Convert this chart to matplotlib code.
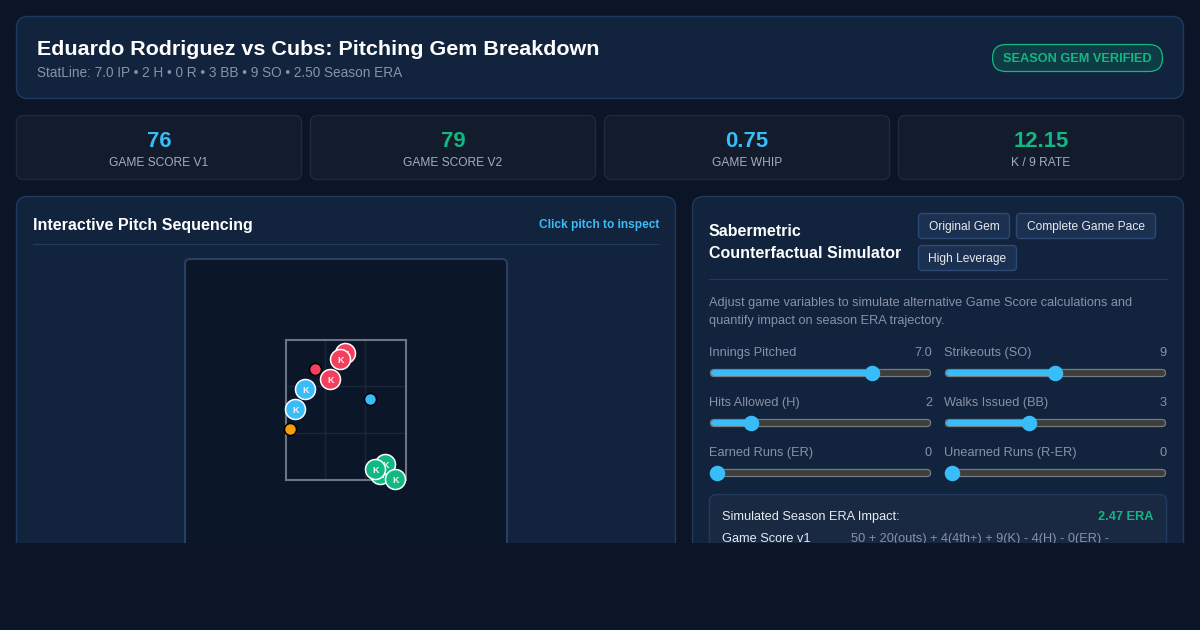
import matplotlib
matplotlib.use("Agg")
import matplotlib.pyplot as plt
from matplotlib.patches import FancyBboxPatch, Rectangle

plt.rcParams['font.family'] = ['Liberation Sans', 'DejaVu Sans']

W, H = 1200, 630
BG = '#0b1527'
CARD = '#131c2d'
CARD_EDGE = '#1f2a3c'
PANEL = '#12233d'
PANEL_EDGE = '#1e3a5f'
BLUE = '#38bdf8'
GREEN = '#10b981'
RED = '#f43f5e'
ORANGE = '#f59e0b'
MUTED = '#8892a6'
SOFT = '#a3adbd'
WHITE = '#ffffff'

TITLE = 'Eduardo Rodriguez vs Cubs: Pitching Gem Breakdown'
SUBTITLE = 'StatLine: 7.0 IP • 2 H • 0 R • 3 BB • 9 SO • 2.50 Season ERA'
BADGE = 'SEASON GEM VERIFIED'

stat_values = ['76', '79', '0.75', '12.15']
stat_labels = ['GAME SCORE V1', 'GAME SCORE V2', 'GAME WHIP', 'K / 9 RATE']
stat_colors = [BLUE, GREEN, BLUE, GREEN]

# pitch locations, measured from the top-left corner of the strike zone box
pitch_x = [60, 55, 45, 30, 20, 10, 85, 5, 95, 100, 110, 90]
pitch_y = [14, 20, 40, 30, 50, 70, 60, 90, 135, 125, 140, 130]
pitch_k = [1, 1, 1, 0, 1, 1, 0, 0, 1, 1, 1, 1]
pitch_c = [RED, RED, RED, RED, BLUE, BLUE, BLUE, ORANGE, GREEN, GREEN, GREEN, GREEN]

slider_names = ['Innings Pitched', 'Strikeouts (SO)', 'Hits Allowed (H)',
                'Walks Issued (BB)', 'Earned Runs (ER)', 'Unearned Runs (R-ER)']
slider_text = ['7.0', '9', '2', '3', '0', '0']
slider_vals = [7, 9, 2, 3, 0, 0]
slider_min = [1, 0, 0, 0, 0, 0]
slider_max = [9, 18, 12, 8, 10, 10]

buttons = ['Original Gem', 'Complete Game Pace', 'High Leverage']

fig = plt.figure(figsize=(12, 6.3), dpi=100, facecolor=BG)
ax = fig.add_axes([0, 0, 1, 1])
ax.set_xlim(0, W)
ax.set_ylim(H, 0)
ax.axis('off')


def px(v):
    return v * 0.72


def box(x0, y0, x1, y1, fc, ec, r=8, lw=1.0, z=1):
    p = FancyBboxPatch((x0, y0), x1 - x0, y1 - y0,
                       boxstyle=f'round,pad=0,rounding_size={r}',
                       fc=fc, ec=ec, lw=lw, zorder=z)
    ax.add_patch(p)
    return p


def txt(x, y, s, size, color, weight='normal', ha='left', z=5):
    return ax.text(x, y, s, fontsize=px(size), color=color, fontweight=weight,
                   ha=ha, va='baseline', zorder=z)


# header
box(16.5, 16.5, 1183.5, 98.5, PANEL, PANEL_EDGE, r=11)
txt(37, 55, TITLE, 21.5, WHITE, 'bold')
txt(37, 77, SUBTITLE, 13.6, MUTED)
box(992.5, 44.5, 1162.5, 71.5, '#0f3b46', GREEN, r=13.5, lw=0.9, z=2)
txt(1077.5, 62, BADGE, 12.8, GREEN, 'bold', ha='center')

# stat cards
for i, (v, l, c) in enumerate(zip(stat_values, stat_labels, stat_colors)):
    x0 = 16 + i * 294
    box(x0 + .5, 115.5, x0 + 285.5, 179.5, CARD, CARD_EDGE, r=7)
    txt(x0 + 143, 147, v, 22.2, c, 'bold', ha='center')
    txt(x0 + 143, 166, l, 12, SOFT, ha='center')

# left panel
box(16.5, 196.5, 675.5, 600, PANEL, PANEL_EDGE, r=11)
txt(33, 230, 'Interactive Pitch Sequencing', 16, WHITE, 'bold')
txt(659, 228, 'Click pitch to inspect', 11.84, BLUE, 'bold', ha='right')
ax.plot([33, 659], [244, 244], color=PANEL_EDGE, lw=0.8, zorder=2)
box(185, 259, 507, 620, '#0b1628', '#2a4060', r=5, lw=1.5, z=2)

# pitch chart
zone = fig.add_axes([286 / W, 1 - 480 / H, 120 / W, 140 / H])
zone.set_xlim(0.6, 120.6)
zone.set_ylim(140.6, 0.6)
zone.patch.set_alpha(0)
zone.set_xticks([])
zone.set_yticks([])
for s in zone.spines.values():
    s.set_color('#6b7482')
    s.set_linewidth(1.5)
    s.set_zorder(1.5)
for g in (40, 80):
    zone.axvline(g, color='#1d2738', lw=1.0, zorder=1)
for g in (140 / 3, 280 / 3):
    zone.axhline(g, color='#1d2738', lw=1.0, zorder=1)
for i, (x, y, k, c) in enumerate(zip(pitch_x, pitch_y, pitch_k, pitch_c)):
    if k:
        zone.scatter([x], [y], s=px(20) ** 2, c=c, edgecolors=WHITE, linewidths=1.1,
                     clip_on=False, zorder=3 + i)
        zone.text(x, y, 'K', color='#f2f5f8', fontsize=px(9), fontweight='bold',
                  ha='center', va='center_baseline', clip_on=False, zorder=3 + i)
    else:
        zone.scatter([x], [y], s=px(12) ** 2, c=c, edgecolors='#000000', linewidths=1.1,
                     clip_on=False, zorder=3 + i)

# right panel
box(692.5, 196.5, 1183.5, 600, PANEL, PANEL_EDGE, r=11)
txt(709, 236, 'Sabermetric', 16, WHITE, 'bold')
txt(709, 258, 'Counterfactual Simulator', 16, WHITE, 'bold')
button_boxes = [(918, 213, 1010, 239), (1016, 213, 1156, 239), (918, 245, 1017, 271)]
for label, (x0, y0, x1, y1) in zip(buttons, button_boxes):
    box(x0 + .5, y0 + .5, x1 - .5, y1 - .5, '#1c3050', '#2a4a78', r=4, z=2)
    txt((x0 + x1) / 2, y0 + 17, label, 12, '#e6ebf2', ha='center')
ax.plot([709, 1167], [279, 279], color=PANEL_EDGE, lw=0.8, zorder=2)
txt(709, 306, 'Adjust game variables to simulate alternative Game Score calculations and', 12.8, MUTED)
txt(709, 324, 'quantify impact on season ERA trajectory.', 12.8, MUTED)

# sliders
for i, name in enumerate(slider_names):
    col, row = i % 2, i // 2
    x0 = 710 + col * 235
    x1 = x0 + 221
    base = 356 + row * 50
    cy = base + 17
    txt(x0 - 1, base, name, 12.8, MUTED)
    txt(x1 + 1, base, slider_text[i], 12.8, MUTED, ha='right')
    box(x0 + .5, cy - 3.5, x1 - .5, cy + 3.5, '#3d3d3d', '#777b80', r=3.5, lw=0.9, z=2)
    a = fig.add_axes([(x0 - 0.5) / W, 1 - (cy + 10) / H, 221 / W, 20 / H])
    a.axis('off')
    span = slider_max[i] - slider_min[i]
    pad = span * 7.5 / 206
    lo, hi = slider_min[i] - pad, slider_max[i] + pad
    a.set_xlim(lo, hi)
    a.set_ylim(-1, 1)
    a.hlines(0, lo + span * 4 / 206, slider_vals[i], color=BLUE, lw=px(6), capstyle='round', zorder=2)
    a.scatter([slider_vals[i]], [0], s=px(15.5) ** 2, c=BLUE, linewidths=0, clip_on=False, zorder=3)

# result box
box(709.5, 494.5, 1166.5, 600, '#1a2942', '#223a5e', r=7, z=2)
txt(722, 520, 'Simulated Season ERA Impact:', 12.8, '#e6ebf2')
txt(1154, 520, '2.47 ERA', 12.8, GREEN, 'bold', ha='right')
txt(722, 542, 'Game Score v1', 12.8, '#e6ebf2')
txt(851, 542, '50 + 20(outs) + 4(4th+) + 9(K) - 4(H) - 0(ER) -', 12.8, MUTED)

# page fold: everything below is cut off
ax.add_patch(Rectangle((0, 543), W, H - 543, fc=BG, ec='none', zorder=50))

fig.savefig('out.png', dpi=100, facecolor=BG)
